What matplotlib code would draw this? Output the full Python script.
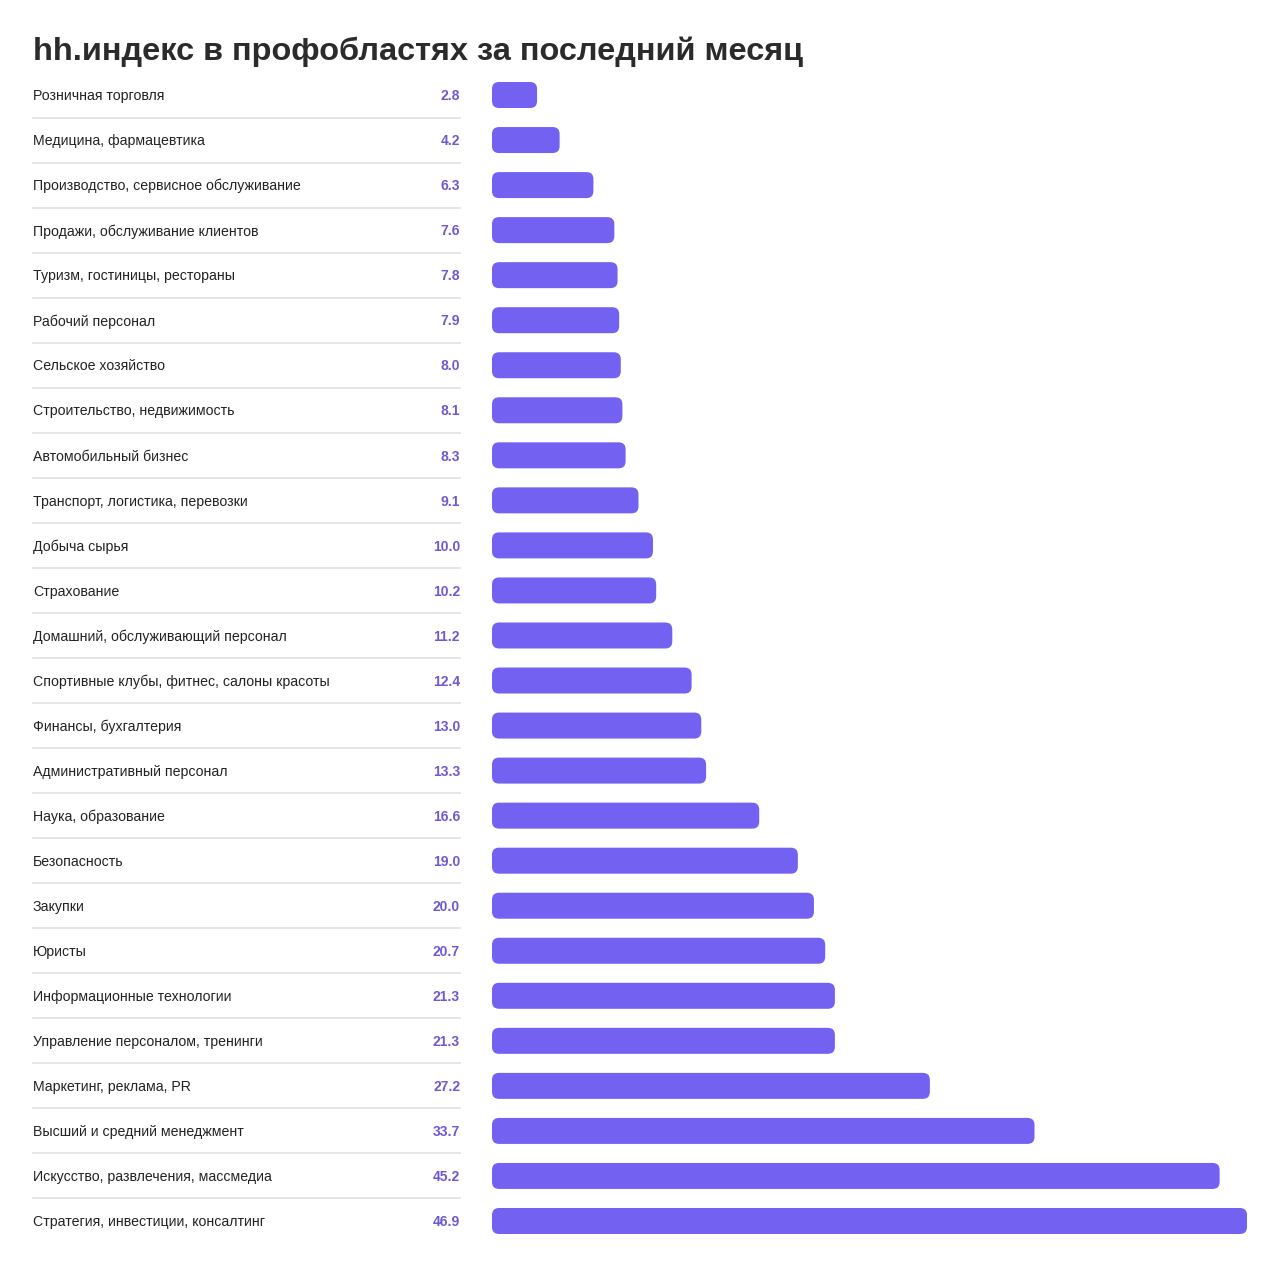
import matplotlib
matplotlib.use("Agg")
import matplotlib.pyplot as plt
from matplotlib.patches import FancyBboxPatch
from matplotlib.transforms import blended_transform_factory, offset_copy
from matplotlib.lines import Line2D

plt.rcParams['font.family'] = ['Liberation Sans', 'DejaVu Sans']

title = "hh.индекс в профобластях за последний месяц"
categories = [
    "Розничная торговля",
    "Медицина, фармацевтика",
    "Производство, сервисное обслуживание",
    "Продажи, обслуживание клиентов",
    "Туризм, гостиницы, рестораны",
    "Рабочий персонал",
    "Сельское хозяйство",
    "Строительство, недвижимость",
    "Автомобильный бизнес",
    "Транспорт, логистика, перевозки",
    "Добыча сырья",
    "Страхование",
    "Домашний, обслуживающий персонал",
    "Спортивные клубы, фитнес, салоны красоты",
    "Финансы, бухгалтерия",
    "Административный персонал",
    "Наука, образование",
    "Безопасность",
    "Закупки",
    "Юристы",
    "Информационные технологии",
    "Управление персоналом, тренинги",
    "Маркетинг, реклама, PR",
    "Высший и средний менеджмент",
    "Искусство, развлечения, массмедиа",
    "Стратегия, инвестиции, консалтинг",
]
values = [2.8, 4.2, 6.3, 7.6, 7.8, 7.9, 8.0, 8.1, 8.3, 9.1, 10.0, 10.2, 11.2,
          12.4, 13.0, 13.3, 16.6, 19.0, 20.0, 20.7, 21.3, 21.3, 27.2, 33.7,
          45.2, 46.9]

W, H = 1280, 1267
fig = plt.figure(figsize=(W / 100, H / 100), dpi=100)
fig.patch.set_facecolor("white")

n = len(categories)
row0, rowN = 95, 1221
sp = (rowN - row0) / (n - 1)
top_px = row0 - sp / 2
bot_px = rowN + sp / 2
left_px, right_px = 492, 1247
ax = fig.add_axes([left_px / W, 1 - bot_px / H, (right_px - left_px) / W, (bot_px - top_px) / H])
vmax = max(values)
ax.set_xlim(0, vmax)
ax.set_ylim(n - 0.5, -0.5)
ax.axis("off")

bar_h = 26 / sp
r_px = 7
x_per_px = vmax / (right_px - left_px)
y_per_px = 1 / sp
bar_color = "#7362F2"
for i, v in enumerate(values):
    p = FancyBboxPatch((0, i - bar_h / 2), v, bar_h,
                       boxstyle=f"round,pad=0,rounding_size={r_px * x_per_px}",
                       mutation_aspect=y_per_px / x_per_px,
                       facecolor=bar_color, edgecolor="none")
    ax.add_patch(p)

tr = blended_transform_factory(fig.transFigure, ax.transData)
tr_txt = offset_copy(tr, fig=fig, x=0, y=-1.2, units="dots")
for i, (c, v) in enumerate(zip(categories, values)):
    fig.text(33 / W, i, c, transform=tr_txt, ha="left", va="center",
             fontsize=10.2, color="#222222")
    fig.text(460 / W, i, f"{v:.1f}", transform=tr_txt, ha="right", va="center",
             fontsize=10, fontweight="bold", color="#6B5BD3")
    if i < n - 1:
        ln = Line2D([33 / W, 460 / W], [i + 0.5, i + 0.5], transform=tr,
                    color="#E0E0E0", linewidth=1.2)
        fig.add_artist(ln)

fig.text(33 / W, 1 - 52 / H, title, ha="left", va="center", fontsize=23.4,
         fontweight="bold", color="#2B2B2B")

fig.savefig("out.png", dpi=100, facecolor="white")
